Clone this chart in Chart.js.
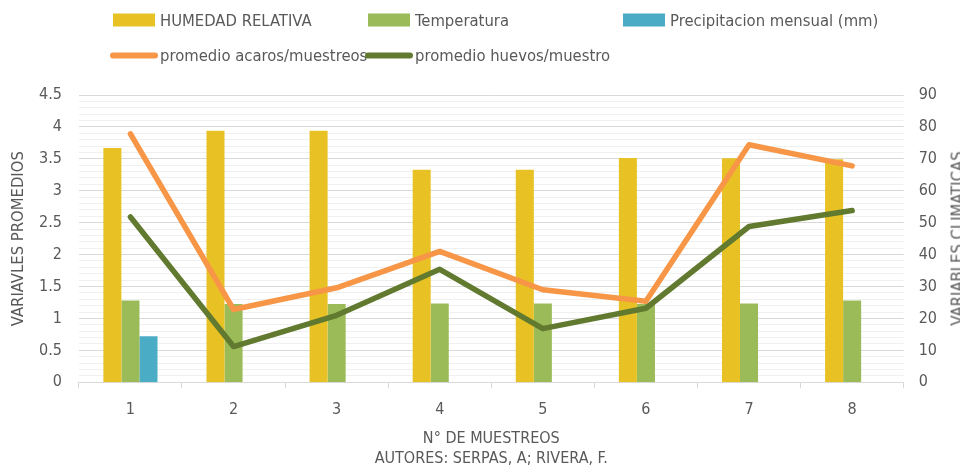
<!DOCTYPE html>
<html>
<head>
<meta charset="utf-8">
<script src="https://cdn.jsdelivr.net/npm/chart.js@4/dist/chart.umd.min.js"></script>
<style>
html,body{margin:0;padding:0;width:960px;height:471px;overflow:hidden;background:#fff;}
#wrap{position:relative;width:960px;height:471px;font-family:'Liberation Sans Narrow','DejaVu Sans Condensed',sans-serif;color:#595959;}
#c{position:absolute;left:0;top:0;}
.lg{position:absolute;display:flex;align-items:center;font-size:16.5px;white-space:nowrap;transform:translateY(-50%);}
.lg .box{width:42px;height:13px;margin-right:5px;}
.lg .line{width:48px;height:6px;border-radius:3px;margin-right:2px;}
#rtitle{position:absolute;font-size:16.5px;white-space:nowrap;transform-origin:center center;}
</style>
</head>
<body>
<div id="wrap">
<canvas id="c" width="960" height="471"></canvas>
<div id="legend"></div>
<div id="rtitle"></div>
</div>
<script>
const categories = ['1','2','3','4','5','6','7','8'];
const humedadRelativa = [73.4, 78.8, 78.8, 66.6, 66.6, 70.3, 70.2, 69.9];
const temperatura = [25.6, 24.5, 24.5, 24.7, 24.7, 24.5, 24.7, 25.6];
const precipitacion = [14.4, null, null, null, null, null, null, null];
const promedioAcaros = [3.89, 1.14, 1.48, 2.05, 1.45, 1.27, 3.72, 3.39];
const promedioHuevos = [2.59, 0.56, 1.05, 1.77, 0.84, 1.16, 2.44, 2.69];
const leftTitle = 'VARIAVLES PROMEDIOS';
const rightTitle = 'VARIABLES CLIMATICAS';
const xTitle = ['N° DE MUESTREOS', 'AUTORES: SERPAS, A; RIVERA, F.'];

const FONT = "'Liberation Sans Narrow','DejaVu Sans Condensed',sans-serif";
const TXT = '#595959';

const legendPos = [
  {x:113, y:20}, {x:368, y:20}, {x:623, y:20},
  {x:110, y:55}, {x:365, y:55}
];

const htmlLegend = {
  id: 'htmlLegend',
  afterUpdate(chart) {
    const el = document.getElementById('legend');
    el.innerHTML = '';
    chart.data.datasets.forEach((ds, i) => {
      const p = legendPos[i];
      const d = document.createElement('div');
      d.className = 'lg';
      d.style.left = p.x + 'px';
      d.style.top = p.y + 'px';
      const sw = document.createElement('span');
      if (ds.type === 'line') { sw.className = 'line'; sw.style.background = ds.borderColor; }
      else { sw.className = 'box'; sw.style.background = ds.backgroundColor; }
      d.appendChild(sw);
      const t = document.createElement('span');
      t.textContent = ds.label;
      d.appendChild(t);
      el.appendChild(d);
    });
    const rt = document.getElementById('rtitle');
    rt.textContent = rightTitle;
    const w = rt.offsetWidth, h = rt.offsetHeight;
    const cy = (chart.chartArea.top + chart.chartArea.bottom) / 2;
    rt.style.left = (957 - w/2) + 'px';
    rt.style.top = (cy - h/2) + 'px';
    rt.style.transform = 'rotate(-90deg)';
  }
};

new Chart(document.getElementById('c'), {
  data: {
    labels: categories,
    datasets: [
      {type:'bar', label:'HUMEDAD RELATIVA', data:humedadRelativa, backgroundColor:'#E8C224', yAxisID:'y1', order:2, barPercentage:1, categoryPercentage:0.525},
      {type:'bar', label:'Temperatura', data:temperatura, backgroundColor:'#9BBB59', yAxisID:'y1', order:2, barPercentage:1, categoryPercentage:0.525},
      {type:'bar', label:'Precipitacion mensual (mm)', data:precipitacion, backgroundColor:'#4BACC6', yAxisID:'y1', order:2, barPercentage:1, categoryPercentage:0.525},
      {type:'line', label:'promedio acaros/muestreos', data:promedioAcaros, borderColor:'#F79646', backgroundColor:'#F79646', borderWidth:5.5, pointRadius:0, tension:0, yAxisID:'y', order:1, borderCapStyle:'round', borderJoinStyle:'round'},
      {type:'line', label:'promedio huevos/muestro', data:promedioHuevos, borderColor:'#617A2F', backgroundColor:'#617A2F', borderWidth:5.5, pointRadius:0, tension:0, yAxisID:'y', order:0, borderCapStyle:'round', borderJoinStyle:'round'}
    ]
  },
  options: {
    responsive:false,
    animation:false,
    devicePixelRatio:1,
    layout:{padding:{top:95, left:1, right:8, bottom:2}},
    plugins:{legend:{display:false}, tooltip:{enabled:false}},
    scales:{
      x:{
        offset:true,
        grid:{offset:true, drawOnChartArea:false, drawTicks:true, tickLength:6, color:'#d9d9d9'},
        border:{color:'#d9d9d9'},
        ticks:{color:TXT, font:{family:FONT, size:16}, padding:12},
        title:{display:true, text:xTitle, color:TXT, font:{family:FONT, size:16, lineHeight:1.25}, padding:{top:-2.5, bottom:0}}
      },
      y:{
        position:'left', min:0, max:4.5,
        ticks:{stepSize:0.1, autoSkip:false, color:TXT, font:{family:FONT, size:16}, padding:17,
          callback:(v)=> (Math.round(v*10)%5===0 ? String(Math.round(v*10)/10) : '')},
        grid:{drawTicks:false, color:(ctx)=> (Math.round(ctx.tick.value*10)%5===0 ? '#d9d9d9' : '#f0f0f0')},
        border:{display:false},
        title:{display:true, text:leftTitle, color:TXT, font:{family:FONT, size:16.5, lineHeight:'6px'}, padding:{top:15, bottom:0}}
      },
      y1:{
        position:'right', min:0, max:90,
        ticks:{stepSize:10, color:TXT, font:{family:FONT, size:16}, padding:15},
        grid:{display:false, drawTicks:false},
        border:{display:false}
      }
    }
  },
  plugins:[htmlLegend]
});
</script>
</body>
</html>
